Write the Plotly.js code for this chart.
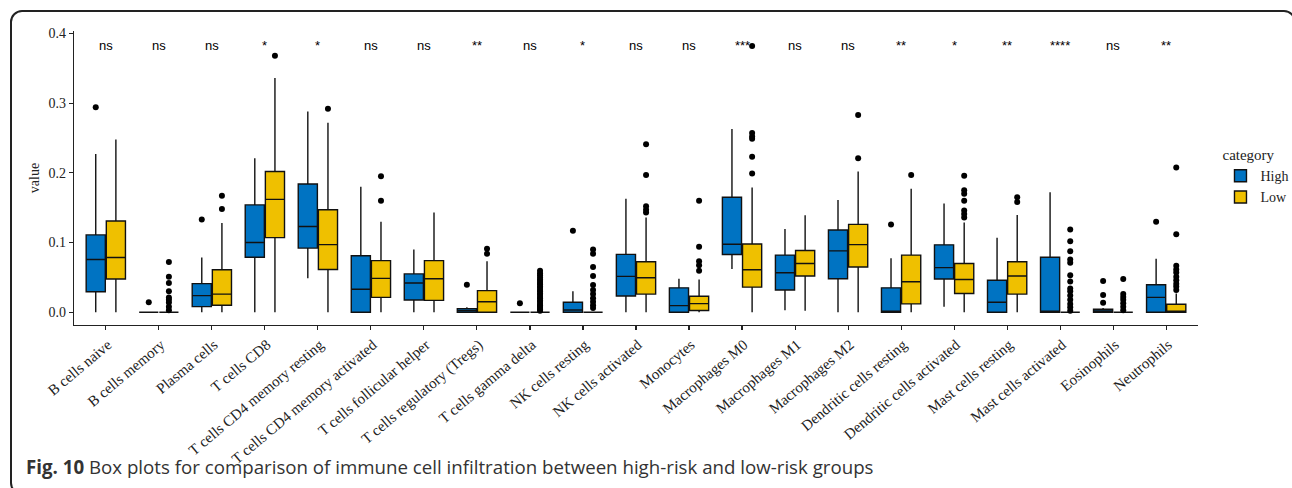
<!DOCTYPE html>
<html>
<head>
<meta charset="utf-8">
<script src="https://cdn.plot.ly/plotly-3.0.1.min.js"></script>
<style>
  html, body { margin:0; padding:0; background:#fff; width:1292px; height:488px; overflow:hidden; }
  #frame { position:absolute; left:10px; top:10px; width:1286px; height:485px; border:2px solid #222; border-radius:12px; box-sizing:border-box; pointer-events:none; }
  #chart { position:absolute; left:0; top:0; width:1292px; height:488px; }
  #caption { position:absolute; left:26px; top:454px; font-family:"Open Sans", "Noto Sans", sans-serif; font-size:18.7px; color:#333; white-space:nowrap; }
  #caption b { font-weight:700; }
</style>
</head>
<body>
<div id="chart"></div>
<div id="frame"></div>
<div id="caption"><b>Fig. 10</b> Box plots for comparison of immune cell infiltration between high-risk and low-risk groups</div>
<script>
const categories = ["B cells naive","B cells memory","Plasma cells","T cells CD8","T cells CD4 memory resting","T cells CD4 memory activated","T cells follicular helper","T cells regulatory (Tregs)","T cells gamma delta","NK cells resting","NK cells activated","Monocytes","Macrophages M0","Macrophages M1","Macrophages M2","Dendritic cells resting","Dendritic cells activated","Mast cells resting","Mast cells activated","Eosinophils","Neutrophils"];

// High-risk group
const highLower  = [0,     0, 0,      0,    0.0486, 0,     0,      0,      0, 0,      0,      0,      0.062,  0.003,  0,     0,      0.008,  0,      0,     0,      0];
const highQ1     = [0.0295,0, 0.0081, 0.079,0.092,  0,     0.0176, 0,      0, 0,      0.0233, 0,      0.0829, 0.032,  0.048, 0,      0.0476, 0,      0,     0,      0];
const highMedian = [0.0757,0, 0.0238, 0.100,0.123,  0.033, 0.042,  0.0024, 0, 0.0033, 0.0514, 0.0095, 0.0976, 0.0567, 0.088, 0,      0.064,  0.0143, 0,     0.002,  0.0214];
const highQ3     = [0.111, 0, 0.041,  0.154,0.184,  0.081, 0.055,  0.0052, 0, 0.0143, 0.083,  0.035,  0.165,  0.082,  0.118, 0.035,  0.0967, 0.046,  0.079, 0.0043, 0.0395];
const highUpper  = [0.227, 0, 0.0786, 0.221,0.288,  0.180, 0.090,  0.007,  0, 0.030,  0.163,  0.048,  0.263,  0.1195, 0.161, 0.0776, 0.156,  0.107,  0.172, 0.006,  0.0767];
const highOutliers = [[0.294],[0.0143],[0.133],[],[],[],[],[0.0395],[0.013],[0.117],[],[],[],[],[],[0.126],[],[],[],[0.045,0.0248,0.0138],[0.13]];

// Low-risk group
const lowLower  = [0,     0, 0,     0,     0,      0,      0,     0,     0, 0, 0,      0,      0,     0.002,  0,     0,      0,      0,      0, 0, 0];
const lowQ1     = [0.0476,0, 0.010, 0.107, 0.0614, 0.0214, 0.017, 0,     0, 0, 0.026,  0.0024, 0.036, 0.052,  0.065, 0.012,  0.027,  0.026,  0, 0, 0];
const lowMedian = [0.0786,0, 0.026, 0.162, 0.097,  0.0486, 0.048, 0.015, 0, 0, 0.0495, 0.0124, 0.061, 0.070,  0.097, 0.0438, 0.047,  0.052,  0, 0, 0.001];
const lowQ3     = [0.131, 0, 0.061, 0.202, 0.147,  0.074,  0.074, 0.031, 0, 0, 0.0724, 0.0229, 0.098, 0.0886, 0.126, 0.082,  0.070,  0.0724, 0, 0, 0.0114];
const lowUpper  = [0.248, 0, 0.128, 0.336, 0.272,  0.130,  0.143, 0.073, 0, 0, 0.136,  0.047,  0.179, 0.139,  0.202, 0.177,  0.1286, 0.1395, 0, 0, 0.027];
const lowOutliers = [
  [],
  [0.072,0.051,0.042,0.030,0.021,0.018,0.014,0.008,0.003],
  [0.167,0.148],
  [0.368],
  [0.292],
  [0.195,0.160],
  [],
  [0.091,0.084],
  [0.0595,0.056,0.053,0.050,0.047,0.045,0.042,0.040,0.037,0.035,0.032,0.030,0.027,0.025,0.022,0.020,0.017,0.015,0.012,0.010,0.008,0.006,0.004,0.002],
  [0.090,0.084,0.065,0.052,0.039,0.032,0.026,0.020,0.015,0.010,0.006],
  [0.241,0.197,0.152,0.147,0.143],
  [0.160,0.094,0.073,0.0676,0.0595],
  [0.382,0.257,0.252,0.249,0.223,0.199],
  [],
  [0.283,0.221],
  [0.197],
  [0.196,0.175,0.170,0.160,0.146,0.141,0.136],
  [0.165,0.158],
  [0.1186,0.102,0.0876,0.0757,0.071,0.053,0.044,0.034,0.030,0.024,0.018,0.012,0.007,0.002],
  [0.0476,0.026,0.022,0.018,0.013,0.008,0.003],
  [0.2076,0.112,0.0667,0.0614,0.057,0.051,0.046,0.041,0.037,0.032]
];

const significance = ["ns","ns","ns","*","*","ns","ns","**","ns","*","ns","ns","***","ns","ns","**","*","**","****","ns","**"];
const labelY = 0.382;
const yTicks = [0, 0.1, 0.2, 0.3, 0.4];
const yTickText = ["0.0","0.1","0.2","0.3","0.4"];

// Plotly needs every row of a 2-D sample array to be non-empty to detect it as 2-D;
// an empty row becomes [null], which draws nothing.
const asRows = rows => rows.map(r => (r.length ? r : [null]));

function boxTrace(name, color, lo, q1, med, q3, up, outl) {
  return {
    type: 'box', name: name, x: categories,
    lowerfence: lo, q1: q1, median: med, q3: q3, upperfence: up,
    y: asRows(outl),
    boxpoints: 'all', jitter: 0, pointpos: 0,
    fillcolor: color,
    line: { color: '#111', width: 1.4 },
    marker: { color: '#000', size: 6 },
    whiskerwidth: 0,
    hoverinfo: 'skip'
  };
}

const traces = [
  boxTrace('High', '#0073C2', highLower, highQ1, highMedian, highQ3, highUpper, highOutliers),
  boxTrace('Low', '#EFC000', lowLower, lowQ1, lowMedian, lowQ3, lowUpper, lowOutliers)
];

const annotations = categories.map((c, i) => ({
  x: c, y: labelY, xref: 'x', yref: 'y', text: significance[i], showarrow: false,
  yanchor: 'middle', font: { family: 'Liberation Sans, Arial, sans-serif', size: 13, color: '#000' }
}));

const layout = {
  width: 1292, height: 488,
  margin: { l: 74, r: 94, t: 31, b: 163, autoexpand: false },
  paper_bgcolor: 'rgba(0,0,0,0)', plot_bgcolor: 'rgba(0,0,0,0)',
  boxmode: 'group', boxgap: 0.24, boxgroupgap: 0.05,
  font: { family: 'Liberation Serif, Times New Roman, serif', color: '#222', size: 14 },
  xaxis: {
    range: [-0.6, 20.6], showline: true, linecolor: '#222', linewidth: 1.3,
    ticks: 'outside', ticklen: 4, tickcolor: '#222', tickwidth: 1.1,
    tickangle: -40, ticklabelshift: 2, showgrid: false, zeroline: false, automargin: false,
    tickfont: { family: 'Liberation Serif, serif', size: 15, color: '#222' }
  },
  yaxis: {
    range: [-0.0183, 0.4035], showline: true, linecolor: '#222', linewidth: 1.3,
    ticks: 'outside', ticklen: 4, tickcolor: '#222', tickwidth: 1.1,
    tickvals: yTicks, ticktext: yTickText, showgrid: false, zeroline: false, automargin: false,
    tickfont: { family: 'Liberation Serif, serif', size: 14, color: '#222' },
    title: { text: 'value', font: { family: 'Liberation Serif, serif', size: 14, color: '#222' }, standoff: 5 }
  },
  legend: {
    x: 1.020, y: 0.627, xanchor: 'left', yanchor: 'top',
    title: { text: 'category', font: { family: 'Liberation Serif, serif', size: 15, color: '#222' } },
    font: { family: 'Liberation Serif, serif', size: 14, color: '#222' },
    bgcolor: 'rgba(0,0,0,0)'
  },
  annotations: annotations,
  showlegend: true
};

Plotly.newPlot('chart', traces, layout, { displayModeBar: false, staticPlot: true });
</script>
</body>
</html>
